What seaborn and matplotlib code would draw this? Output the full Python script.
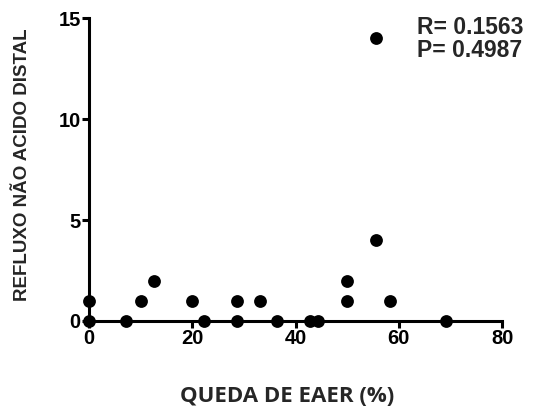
import matplotlib
matplotlib.use("Agg")
import matplotlib.pyplot as plt
import seaborn as sns
import pandas as pd

# Dados
queda_eaer = [0, 0, 7.2, 10, 12.6, 20, 22.2, 28.6, 28.6, 33.2, 36.4, 42.7, 44.4,
              49.9, 49.9, 55.5, 55.5, 58.3, 69.2]
refluxo = [1, 0, 0, 1, 2, 1, 0, 1, 0, 1, 0, 0, 0, 2, 1, 4, 14, 1, 0]
x_ticks = [0, 20, 40, 60, 80]
y_ticks = [0, 5, 10, 15]
stats_text = "R= 0.1563\nP= 0.4987"

df = pd.DataFrame({"queda": queda_eaer, "refluxo": refluxo})

sns.set_style("ticks")
plt.rcParams['font.family'] = ['Liberation Sans', 'DejaVu Sans']

fig = plt.figure(figsize=(5.36, 4.12), dpi=100)
ax = fig.add_axes([0.166, 0.221, 0.771, 0.735])

sns.scatterplot(data=df, x="queda", y="refluxo", ax=ax, color="black",
                s=85, edgecolor="black", linewidth=0, clip_on=False, zorder=5)

ax.set_xlim(0, 80)
ax.set_ylim(0, 15)
ax.set_xticks(x_ticks)
ax.set_yticks(y_ticks)
for lbl in ax.get_xticklabels() + ax.get_yticklabels():
    lbl.set_fontweight("bold")
    lbl.set_fontsize(14.5)
ax.tick_params(axis="both", direction="out", length=5, width=2.2, colors="black", pad=1)

sns.despine(ax=ax)
for side in ["left", "bottom"]:
    ax.spines[side].set_linewidth(2.2)
    ax.spines[side].set_color("black")

ax.set_ylabel("REFLUXO NÃO ACIDO DISTAL", fontsize=13.5, fontweight="bold", va="center")
ax.yaxis.set_label_coords(-0.162, 0.515)
ax.set_xlabel("QUEDA DE EAER (%)", fontsize=16, fontweight="bold",
              family=["Open Sans", "DejaVu Sans"], va="center")
ax.xaxis.set_label_coords(0.48, -0.25)

fig.text(0.778, 0.962, stats_text, fontsize=16.5, fontweight="bold",
         ha="left", va="top", linespacing=1.0)

fig.savefig("out.png", dpi=100)
